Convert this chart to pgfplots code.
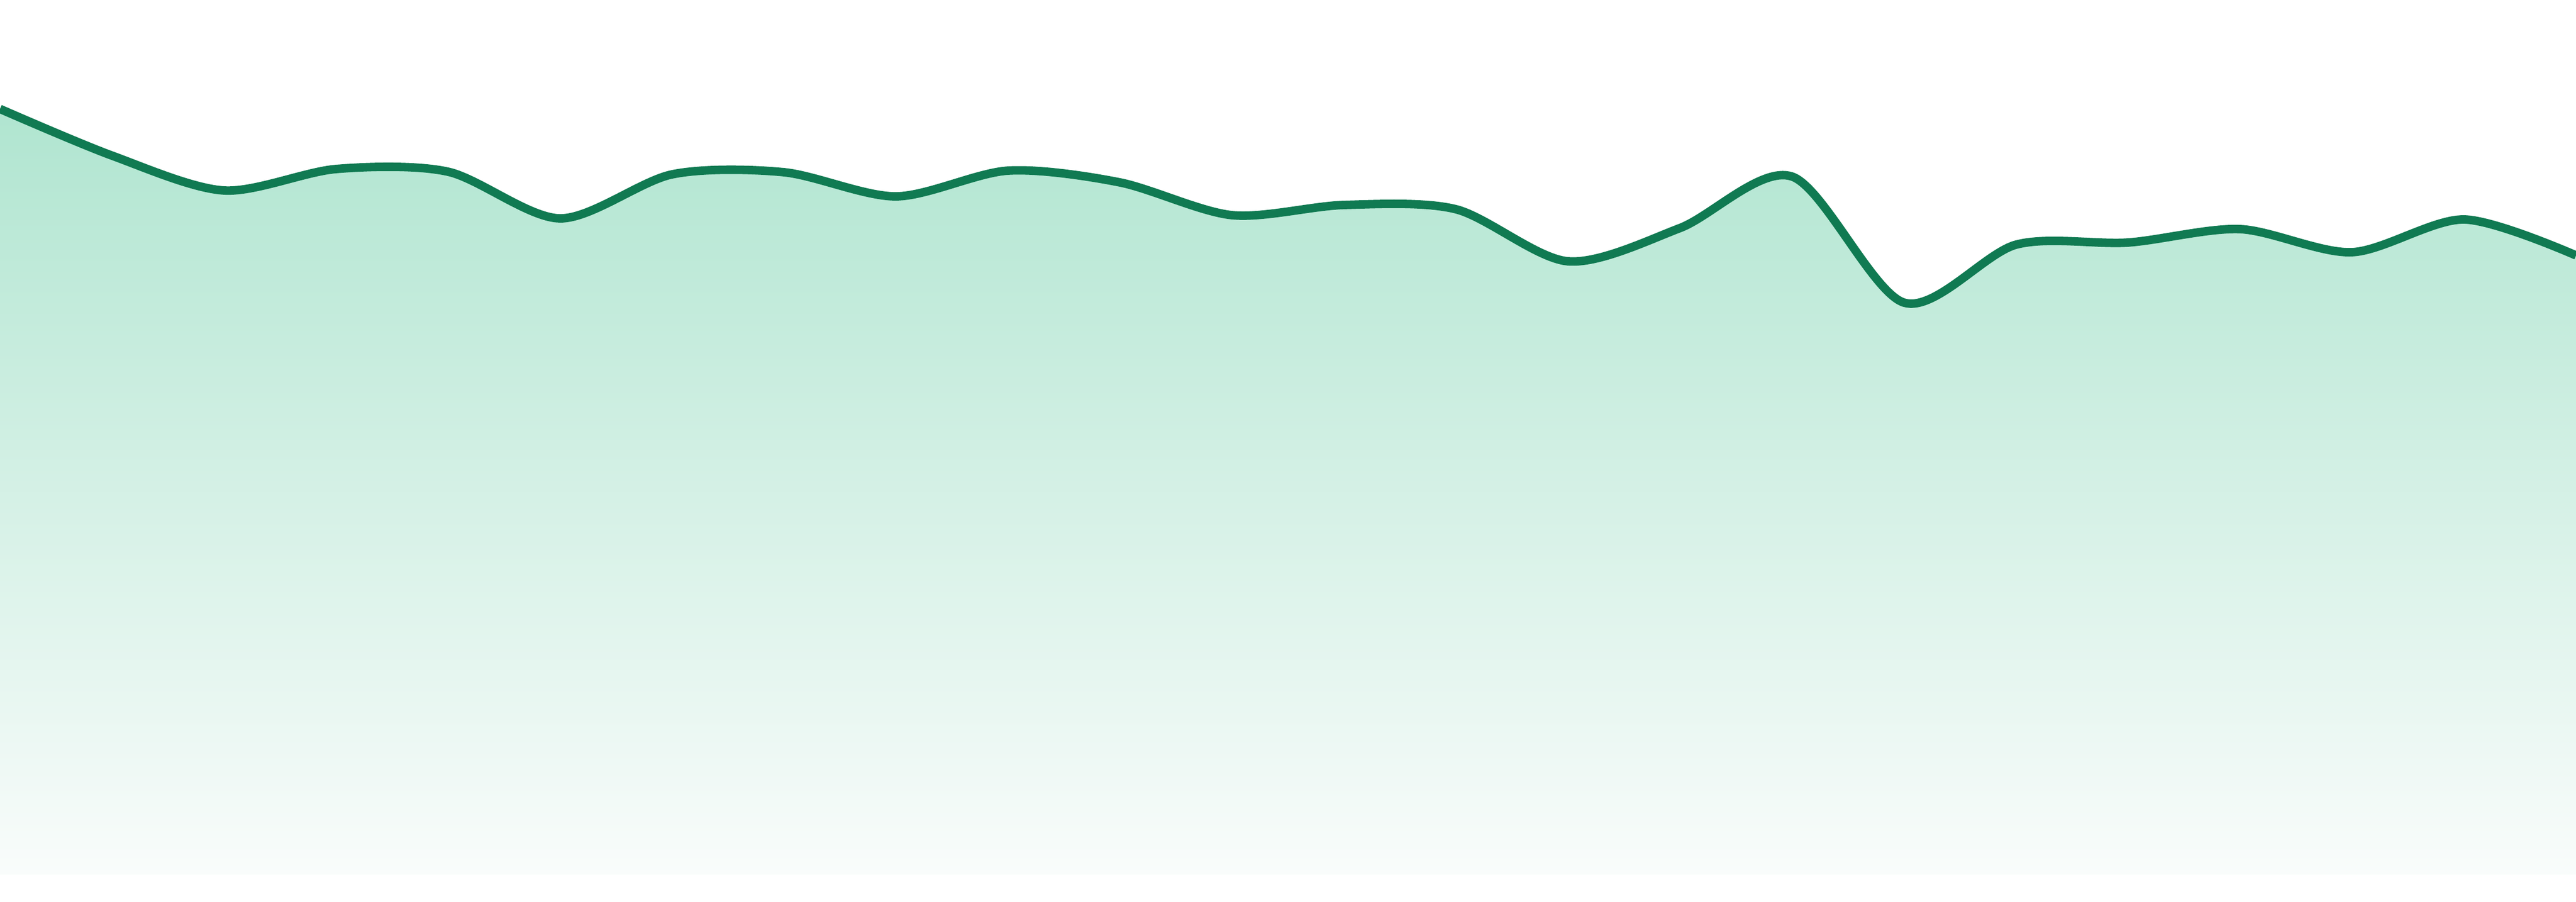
\documentclass[border=0pt]{standalone}
\usepackage{pgfplots}
\pgfplotsset{compat=1.18}
\definecolor{lineGreen}{RGB}{16,122,82}
\definecolor{fillTop}{RGB}{176,229,208}
\definecolor{fillBottom}{RGB}{249,252,251}

\pgfplotstableread{
idx value
0  1427
1  1340
2  1275
3  1315
4  1310
5  1223
6  1305
7  1309
8  1264
9  1312
10 1290
11 1229
12 1248
13 1240
14 1143
15 1205
16 1301
17 1066
18 1174
19 1178
20 1203
21 1160
22 1221
23 1154
}\series

\begin{document}
\begin{tikzpicture}
  \begin{axis}[
    width=16cm, height=5.6cm,
    scale only axis,
    hide axis,
    xmin=0, xmax=23,
    ymin=-50, ymax=1630,
    clip=true,
  ]
  % area under the curve, fading to near white
  \addplot[draw=none, smooth, tension=0.5,
           top color=fillTop, bottom color=fillBottom]
    table[x=idx, y=value] {\series} \closedcycle;
  % the line itself
  \addplot[lineGreen, line width=1.5pt, smooth, tension=0.5, mark=none]
    table[x=idx, y=value] {\series};
  \end{axis}
  % keep the whole (hidden) axis box as the page
  \path (current axis.south west) rectangle (current axis.north east);
\end{tikzpicture}
\end{document}
